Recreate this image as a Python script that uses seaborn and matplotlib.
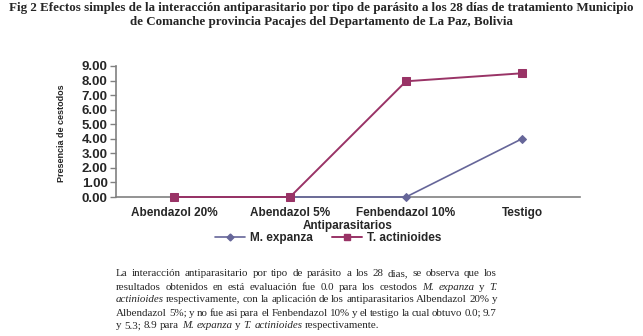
import matplotlib
matplotlib.use("Agg")
import matplotlib.pyplot as plt
import seaborn as sns
import pandas as pd
from matplotlib.lines import Line2D

categories = ["Abendazol 20%", "Abendazol 5%", "Fenbendazol 10%", "Testigo"]
m_expanza = [0.0, 0.0, 0.0, 4.0]
t_actinioides = [0.0, 0.0, 7.95, 8.5]
series_names = ["M. expanza", "T. actinioides"]
yticks = [0, 1, 2, 3, 4, 5, 6, 7, 8, 9]

col_m = "#666699"
col_t = "#993366"

df = pd.DataFrame({
    "cat": categories * 2,
    "val": m_expanza + t_actinioides,
    "serie": [series_names[0]] * 4 + [series_names[1]] * 4,
})

sns.set_style("white")
plt.rcParams["font.family"] = ["Liberation Sans", "DejaVu Sans"]

fig = plt.figure(figsize=(6.43, 3.36), dpi=100)
W, H = 643, 336
ax = fig.add_axes([116 / W, 1 - 197 / H, (580 - 116) / W, (197 - 66) / H])

sns.lineplot(data=df[df.serie == series_names[0]], x="cat", y="val", ax=ax,
             color=col_m, marker="D", markersize=4.5, markeredgecolor=col_m,
             linewidth=1.2, sort=False, clip_on=False, zorder=3)
sns.lineplot(data=df[df.serie == series_names[1]], x="cat", y="val", ax=ax,
             color=col_t, marker="s", markersize=6, markeredgecolor=col_t,
             linewidth=1.4, sort=False, clip_on=False, zorder=4)

ax.set_xlim(-0.5, 3.5)
ax.set_ylim(0, 9)
ax.set_yticks(yticks)
ax.set_yticklabels([f"{v:.2f}" for v in yticks], fontsize=9.5, fontweight="bold")
ax.set_xticks(range(len(categories)))
ax.set_xticklabels(categories, fontsize=8.5, fontweight="bold")
ax.tick_params(axis="y", length=4, width=1, color="#808080", direction="out", pad=2, left=True)
ax.tick_params(axis="x", length=0, pad=7)
for s in ["top", "right"]:
    ax.spines[s].set_visible(False)
ax.spines["left"].set_color("#808080")
ax.spines["bottom"].set_color("#808080")
ax.spines["left"].set_linewidth(1.2)
ax.spines["bottom"].set_linewidth(1.2)
ax.set_xlabel("Antiparasitarios", fontsize=8.5, fontweight="bold", labelpad=1)
ax.set_ylabel("")
fig.text(62 / W, 1 - 133 / H, "Presencia de cestodos", rotation=90, fontsize=6.5,
         fontweight="bold", ha="center", va="center", fontstretch="condensed")

handles = [Line2D([], [], color=col_m, marker="D", markersize=3.5, linewidth=1.2),
           Line2D([], [], color=col_t, marker="s", markersize=4.5, linewidth=1.4)]
fig.legend(handles, series_names, loc="center", bbox_to_anchor=(328 / W, 1 - 238 / H),
           ncol=2, frameon=False, prop={"size": 8.5, "weight": "bold"},
           handlelength=2.6, columnspacing=1.6, handletextpad=0.4, borderpad=0)

fig.text(0.5, 1 - 8 / H, "Fig 2 Efectos simples de la interacción antiparasitario por tipo de parásito a los 28 días de tratamiento Municipio",
         ha="center", va="center", fontsize=9.35, fontweight="bold", family=["Liberation Serif"])
fig.text(0.5, 1 - 22 / H, "de Comanche provincia Pacajes del Departamento de La Paz, Bolivia",
         ha="center", va="center", fontsize=9.35, fontweight="bold", family=["Liberation Serif"])

body = [
    [("La interacción antiparasitario por tipo de parásito a los 28 dias, se observa que los", False)],
    [("resultados obtenidos en está evaluación fue 0.0 para los cestodos", False), ("M. expanza", True), ("y", False), ("T.", True)],
    [("actinioides", True), ("respectivamente, con la aplicación de los antiparasitarios Albendazol 20% y", False)],
    [("Albendazol 5%; y no fue asi para el Fenbendazol 10% y el testigo la cual obtuvo 0.0; 9.7", False)],
    [("y 5.3; 8.9 para", False), ("M. expanza", True), ("y", False), ("T. actinioides", True), ("respectivamente.", False)],
]
justify = [True, True, True, True, False]
renderer = fig.canvas.get_renderer()
y0 = 274
x_left, x_right = 116, 497
fs = 7.9
for i, line in enumerate(body):
    words = []
    for txt, it in line:
        for w in txt.split(" "):
            words.append((w, it))
    texts = []
    widths = []
    for w, it in words:
        t = fig.text(0, 1 - (y0 + 13 * i) / H, w, fontsize=fs, family=["Liberation Serif"],
                     style="italic" if it else "normal", ha="left", va="center")
        texts.append(t)
        widths.append(t.get_window_extent(renderer=renderer).width)
    if justify[i] and len(words) > 1:
        gap = (x_right - x_left - sum(widths)) / (len(words) - 1)
    else:
        gap = fs * 0.25 * 100 / 72
    x = x_left
    for t, wd in zip(texts, widths):
        t.set_x(x / W)
        x += wd + gap

fig.savefig("out.png", dpi=100)
